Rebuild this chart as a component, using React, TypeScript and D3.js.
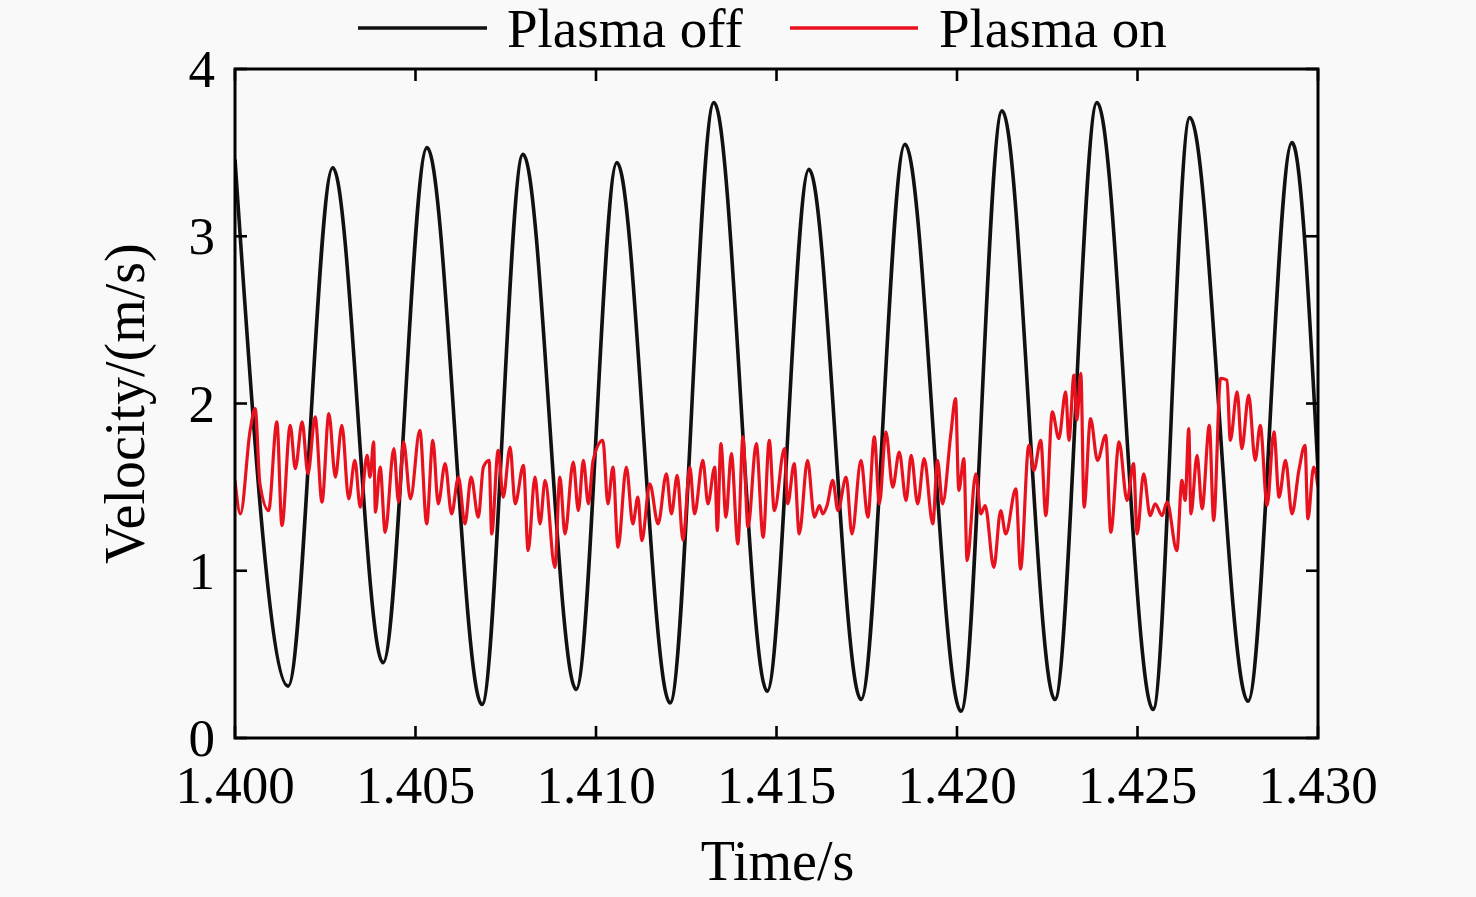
import * as d3 from 'd3'

// Plasma off: extrema of the oscillation (time s, velocity m/s)
const offTime = [1.4, 1.40147, 1.40271, 1.4041, 1.40532, 1.40684, 1.40798, 1.40945, 1.41058, 1.41205, 1.41327, 1.41474, 1.4159, 1.41734, 1.41856, 1.42011, 1.42125, 1.42271, 1.42388, 1.42543, 1.42645, 1.42806, 1.42928, 1.43]
const offVel = [3.46, 0.31, 3.41, 0.45, 3.53, 0.2, 3.49, 0.29, 3.44, 0.21, 3.8, 0.28, 3.4, 0.23, 3.55, 0.16, 3.75, 0.23, 3.8, 0.17, 3.71, 0.22, 3.56, 1.6]

// Plasma on: noisy signal
const onTime = [
  1.4, 1.40015, 1.40042, 1.40056, 1.40069, 1.40093, 1.40116, 1.4013, 1.40153, 1.40167, 1.40186, 1.40202, 1.40222, 1.40241, 1.4026, 1.40278, 1.40296, 1.40315, 1.40332, 1.40347, 1.40366, 1.40374, 1.40384, 1.40389, 1.40402, 1.40416, 1.4044, 1.40453, 1.40467, 1.40486,
  1.40512, 1.40531, 1.40548, 1.40563, 1.40582, 1.406, 1.40619, 1.40637, 1.40654, 1.40674, 1.40688, 1.40704, 1.40711, 1.40729, 1.40743, 1.40762, 1.40776, 1.40799, 1.40812, 1.40831, 1.40845, 1.40859, 1.40886, 1.409, 1.40914, 1.40937, 1.40951, 1.40965, 1.40979,
  1.40992, 1.41019, 1.41033, 1.41047, 1.41061, 1.41084, 1.41102, 1.41116, 1.41127, 1.41149, 1.41172, 1.41195, 1.41209, 1.41225, 1.41241, 1.4126, 1.41273, 1.41296, 1.4131, 1.41329, 1.41336, 1.41346, 1.4136, 1.41375, 1.41393, 1.41407, 1.41421, 1.41444, 1.41463, 1.4148,
  1.41494, 1.41522, 1.41531, 1.41549, 1.41563, 1.41586, 1.41605, 1.41619, 1.41628, 1.4164, 1.41656, 1.4167, 1.41693, 1.41709, 1.41734, 1.41753, 1.41771, 1.41785, 1.41803, 1.41822, 1.4184, 1.41859, 1.41873, 1.41891, 1.41909, 1.41933, 1.41946, 1.4196,
  1.41983, 1.41996, 1.42005, 1.42019, 1.42028, 1.42052, 1.42066, 1.42078, 1.42102, 1.42121, 1.42135, 1.42163, 1.42176, 1.42199, 1.42213, 1.42232, 1.42246, 1.42264, 1.42282, 1.42301, 1.4231, 1.42324, 1.42332, 1.42343, 1.42352, 1.4237, 1.42389, 1.42412, 1.42426, 1.42449,
  1.42471, 1.42489, 1.42499, 1.42517, 1.42535, 1.42549, 1.42568, 1.42582, 1.42609, 1.42623, 1.42632, 1.42642, 1.42648, 1.42665, 1.42679, 1.42699, 1.42711, 1.4273, 1.42748, 1.42757, 1.42776, 1.42789, 1.42808, 1.42826, 1.4284, 1.42859, 1.42878, 1.42892, 1.4291, 1.42928, 1.42947, 1.42964, 1.42972, 1.42988, 1.43,
]
const onVel = [
  1.54, 1.34, 1.84, 1.97, 1.52, 1.36, 1.89, 1.27, 1.87, 1.61, 1.89, 1.58, 1.92, 1.41, 1.94, 1.56, 1.87, 1.43, 1.66, 1.38, 1.69, 1.56, 1.77, 1.35, 1.62, 1.23, 1.73, 1.41, 1.77, 1.43,
  1.84, 1.28, 1.78, 1.4, 1.64, 1.34, 1.56, 1.28, 1.56, 1.32, 1.62, 1.66, 1.22, 1.72, 1.44, 1.74, 1.4, 1.63, 1.12, 1.56, 1.28, 1.54, 1.02, 1.56, 1.22, 1.65, 1.36, 1.66, 1.4,
  1.66, 1.78, 1.4, 1.62, 1.14, 1.62, 1.28, 1.44, 1.18, 1.52, 1.28, 1.58, 1.34, 1.57, 1.18, 1.62, 1.34, 1.66, 1.4, 1.62, 1.24, 1.76, 1.32, 1.7, 1.16, 1.8, 1.26, 1.76, 1.2, 1.78,
  1.36, 1.73, 1.4, 1.64, 1.22, 1.66, 1.32, 1.39, 1.34, 1.39, 1.54, 1.36, 1.56, 1.22, 1.66, 1.32, 1.8, 1.4, 1.83, 1.5, 1.71, 1.42, 1.69, 1.4, 1.67, 1.28, 1.66, 1.4,
  1.82, 2.03, 1.48, 1.67, 1.06, 1.58, 1.34, 1.39, 1.02, 1.36, 1.22, 1.49, 1.01, 1.75, 1.6, 1.78, 1.33, 1.95, 1.79, 2.07, 1.78, 2.17, 1.9, 2.18, 1.38, 1.91, 1.66, 1.81, 1.23, 1.77,
  1.42, 1.64, 1.22, 1.58, 1.33, 1.4, 1.33, 1.41, 1.12, 1.54, 1.42, 1.85, 1.34, 1.69, 1.37, 1.87, 1.3, 2.15, 2.14, 1.78, 2.07, 1.73, 2.05, 1.66, 1.87, 1.39, 1.83, 1.44, 1.66, 1.34, 1.6, 1.75, 1.31, 1.62, 1.5,
]

const xTicks = [1.4, 1.405, 1.41, 1.415, 1.42, 1.425, 1.43]
const yTicks = [0, 1, 2, 3, 4]
const seriesNames = ['Plasma off', 'Plasma on']
const seriesColors = ['#111111', '#e8121f']

const W = 1476, H = 897
const L = 235, R = 1318, T = 69, B = 738
const FONT = '"Liberation Serif", "Times New Roman", serif'

export default function App() {
  const x = d3.scaleLinear().domain([1.4, 1.43]).range([L, R])
  const y = d3.scaleLinear().domain([0, 4]).range([B, T])

  const offLine = d3.line<number>().x((_, i) => x(offTime[i])).y(d => y(d)).curve(d3.curveMonotoneX)
  const onLine = d3.line<number>().x((_, i) => x(onTime[i])).y(d => y(d)).curve(d3.curveMonotoneX)

  const tk = 12
  return (
    <div style={{ position: 'absolute', left: 0, top: 0 }}>
      <svg width={W} height={H} style={{ display: 'block', background: '#f9f9f9' }} fontFamily={FONT}>
        <defs>
          <clipPath id="plot"><rect x={L} y={T} width={R - L} height={B - T} /></clipPath>
        </defs>
        <g clipPath="url(#plot)" fill="none" strokeLinejoin="round">
          <path d={offLine(offVel) || ''} stroke={seriesColors[0]} strokeWidth={3.6} />
          <path d={onLine(onVel) || ''} stroke={seriesColors[1]} strokeWidth={3.2} />
        </g>
        {/* frame + ticks */}
        <rect x={L} y={T} width={R - L} height={B - T} fill="none" stroke="#000" strokeWidth={3} />
        {xTicks.map(t => (
          <g key={'x' + t}>
            <line x1={x(t)} x2={x(t)} y1={B} y2={B - tk} stroke="#000" strokeWidth={2.6} />
            <line x1={x(t)} x2={x(t)} y1={T} y2={T + tk} stroke="#000" strokeWidth={2.6} />
            <text x={x(t)} y={803} fontSize={53} textAnchor="middle">{d3.format('.3f')(t)}</text>
          </g>
        ))}
        {yTicks.map(t => (
          <g key={'y' + t}>
            <line x1={L} x2={L + tk} y1={y(t)} y2={y(t)} stroke="#000" strokeWidth={2.6} />
            <line x1={R} x2={R - tk} y1={y(t)} y2={y(t)} stroke="#000" strokeWidth={2.6} />
            <text x={215} y={y(t) + 18} fontSize={53} textAnchor="end">{t}</text>
          </g>
        ))}
        <text x={(L + R) / 2 + 1} y={880} fontSize={56} textAnchor="middle">Time/s</text>
        <text transform={`translate(144,${(T + B) / 2}) rotate(-90)`} fontSize={56} textAnchor="middle">Velocity/(m/s)</text>
        {/* legend */}
        <line x1={358} x2={487} y1={28} y2={28} stroke={seriesColors[0]} strokeWidth={3.6} />
        <text x={507} y={47} fontSize={55}>{seriesNames[0]}</text>
        <line x1={790} x2={918} y1={28} y2={28} stroke={seriesColors[1]} strokeWidth={3.6} />
        <text x={939} y={47} fontSize={55}>{seriesNames[1]}</text>
      </svg>
    </div>
  )
}
